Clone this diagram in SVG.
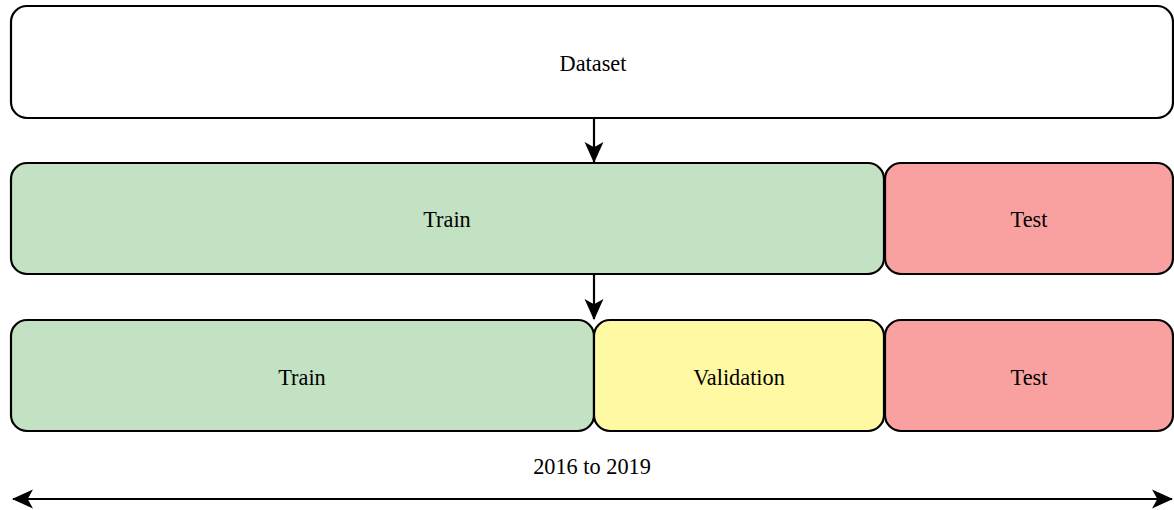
<svg xmlns="http://www.w3.org/2000/svg" width="1174" height="510" viewBox="0 0 1174 510">
<style>
.box{stroke:#000;stroke-width:2.2}
.lbl{font-family:"Liberation Serif","Times New Roman",serif;font-size:22.3px;fill:#000;text-anchor:middle;dominant-baseline:central}
.conn{stroke:#000;stroke-width:2.2;fill:none}
</style>
<defs>
<marker id="ah2" viewBox="0 0 20 20" refX="19" refY="10" markerWidth="21" markerHeight="21" markerUnits="userSpaceOnUse" orient="auto-start-reverse">
<path d="M0,1 L20,10 L0,19 L5,10 Z" fill="#000"/>
</marker>
</defs>
<g id="dataset"><rect class="box" x="11" y="6" width="1162" height="112" rx="16" fill="#fff"/><text class="lbl" x="593" y="63">Dataset</text></g>
<g id="train1"><rect class="box" x="11" y="163" width="873" height="111" rx="16" fill="#c3e1c3"/><text class="lbl" x="447" y="219">Train</text></g>
<g id="test1"><rect class="box" x="885" y="163" width="288" height="111" rx="16" fill="#f9a1a1"/><text class="lbl" x="1029" y="219">Test</text></g>
<g id="train2"><rect class="box" x="11" y="320" width="583" height="111" rx="16" fill="#c3e1c3"/><text class="lbl" x="302" y="377">Train</text></g>
<g id="validation"><rect class="box" x="594" y="320" width="290" height="111" rx="16" fill="#fff9a3"/><text class="lbl" x="739" y="377">Validation</text></g>
<g id="test2"><rect class="box" x="885" y="320" width="288" height="111" rx="16" fill="#f9a1a1"/><text class="lbl" x="1029" y="377">Test</text></g>
<g id="range"><text class="lbl" x="592" y="466">2016 to 2019</text></g>
<g id="connectors">
<line class="conn" x1="594" y1="118" x2="594" y2="162" marker-end="url(#ah2)"/>
<line class="conn" x1="594" y1="274" x2="594" y2="319" marker-end="url(#ah2)"/>
<line class="conn" x1="13" y1="499" x2="1172" y2="499" marker-start="url(#ah2)" marker-end="url(#ah2)"/>
</g>
</svg>
